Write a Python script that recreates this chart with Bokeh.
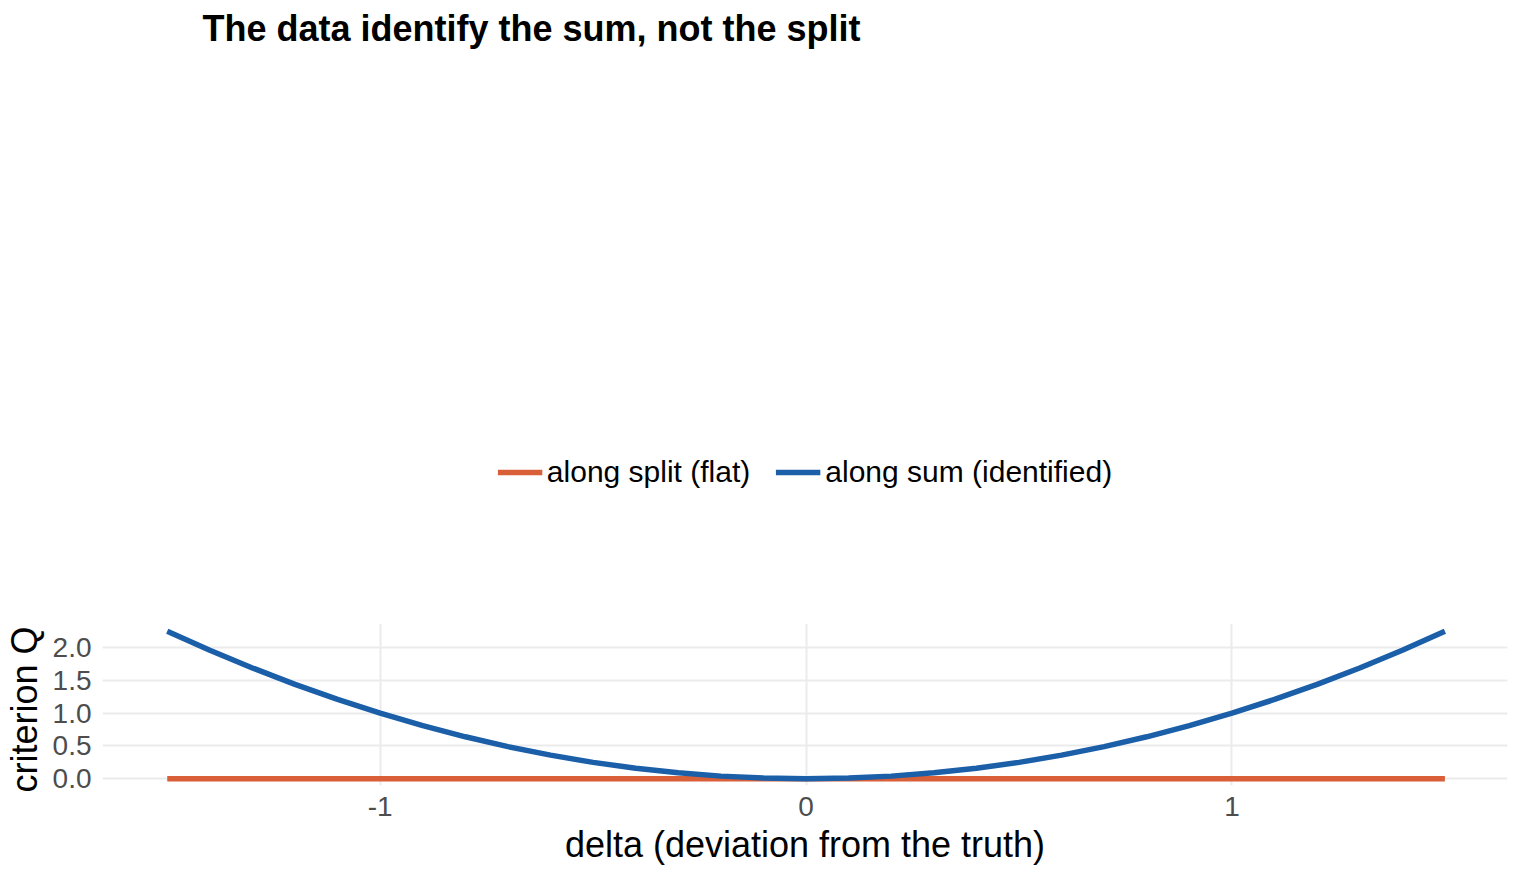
from bokeh.plotting import figure
from bokeh.models import Legend, LegendItem, Range1d, FixedTicker
from bokeh.embed import file_html
from bokeh.resources import INLINE

delta = [-1.5,-1.4,-1.3,-1.2,-1.1,-1.0,-0.9,-0.8,-0.7,-0.6,-0.5,-0.4,-0.3,-0.2,-0.1,0.0,
         0.1,0.2,0.3,0.4,0.5,0.6,0.7,0.8,0.9,1.0,1.1,1.2,1.3,1.4,1.5]
q_sum = [2.25,1.96,1.69,1.44,1.21,1.0,0.81,0.64,0.49,0.36,0.25,0.16,0.09,0.04,0.01,0.0,
         0.01,0.04,0.09,0.16,0.25,0.36,0.49,0.64,0.81,1.0,1.21,1.44,1.69,1.96,2.25]
q_split = [0.0]*len(delta)

p = figure(width=1520, height=867, output_backend="svg", toolbar_location=None,
           x_range=Range1d(-1.652, 1.647), y_range=Range1d(-0.103, 2.368),
           min_border_left=20, min_border_right=13, min_border_top=0, min_border_bottom=10)
p.outline_line_color = None
p.title.text = "The data identify the sum, not the split"
p.title.text_font = "Liberation Sans"
p.title.text_font_size = "36px"
p.title.text_font_style = "bold"
p.title.text_color = "black"
p.title.offset = 100

r1 = p.line(delta, q_split, line_color="#d95f38", line_width=5.5)
r2 = p.line(delta, q_sum, line_color="#1a5fa8", line_width=5.5)

leg = Legend(items=[LegendItem(label="along split (flat)", renderers=[r1]),
                    LegendItem(label="along sum (identified)", renderers=[r2])],
             orientation="horizontal", location="center",
             label_text_font="Liberation Sans", label_text_font_size="30px",
             label_text_color="black",
             border_line_color=None, glyph_width=45, spacing=25, margin=35)
p.add_layout(leg, "above")

for ax in (p.xaxis, p.yaxis):
    ax.axis_line_color = None
    ax.major_tick_line_color = None
    ax.minor_tick_line_color = None
    ax.major_label_text_font = "Liberation Sans"
    ax.major_label_text_font_size = "28px"
    ax.major_label_text_color = "#4d4d4d"
    ax.axis_label_text_font = "Liberation Sans"
    ax.axis_label_text_font_size = "36px"
    ax.axis_label_text_font_style = "normal"
    ax.axis_label_text_color = "black"
p.xaxis.ticker = FixedTicker(ticks=[-1, 0, 1])
p.xaxis.major_label_overrides = {-1: "-1", 0: "0", 1: "1"}
p.yaxis.ticker = FixedTicker(ticks=[0, 0.5, 1, 1.5, 2])
p.yaxis.major_label_overrides = {0: "0.0", 0.5: "0.5", 1: "1.0", 1.5: "1.5", 2: "2.0"}
p.xaxis.axis_label = "delta (deviation from the truth)"
p.yaxis.axis_label = "criterion  Q"
p.xgrid.grid_line_color = "#ebebeb"
p.ygrid.grid_line_color = "#ebebeb"
p.xgrid.grid_line_width = 2
p.ygrid.grid_line_width = 2

open("out.html", "w").write(file_html(p, INLINE))
